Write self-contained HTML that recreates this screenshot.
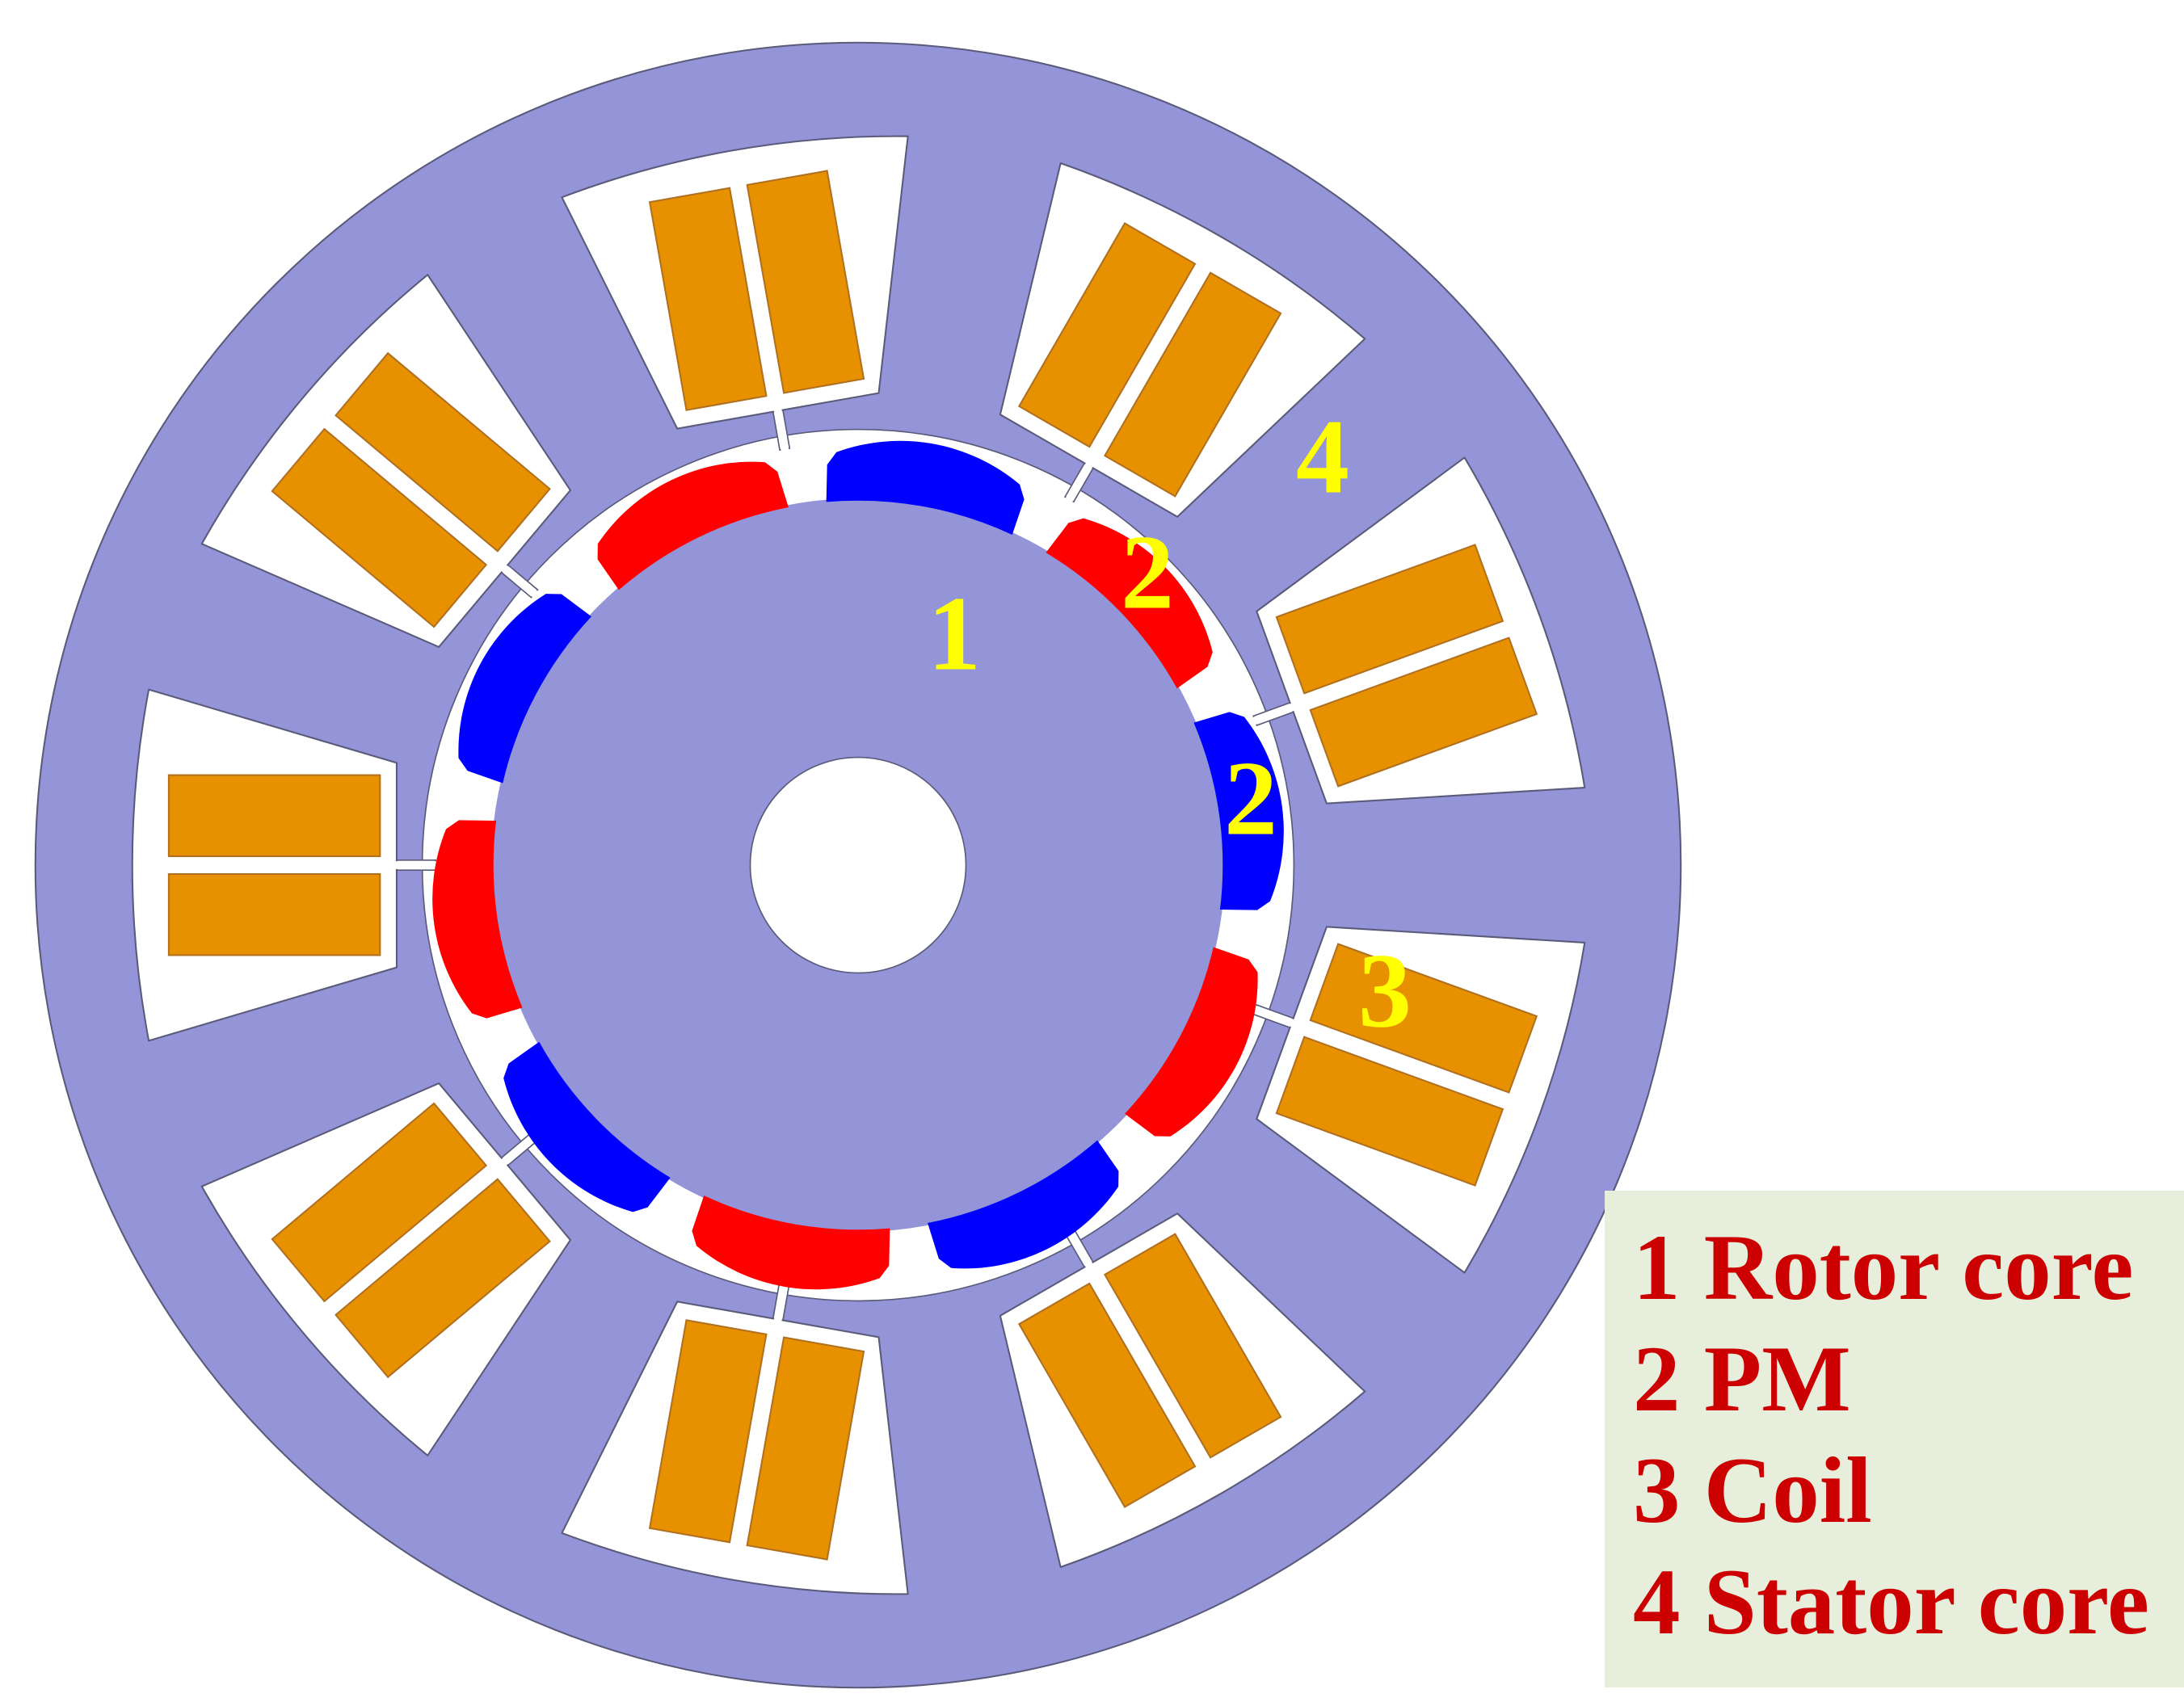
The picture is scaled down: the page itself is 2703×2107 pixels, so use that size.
<!DOCTYPE html>
<html><head><meta charset="utf-8"><style>html,body{margin:0;padding:0;background:#fff}svg{display:block}</style></head>
<body>
<svg width="2703" height="2107" viewBox="0 0 2703 2107" xmlns="http://www.w3.org/2000/svg">
<defs>
<g id="slot">
  <rect x="380" y="-4.5" width="45" height="9" fill="#fff" stroke="#5a5a7a" stroke-width="1.2"/>
  <path d="M415,-92 L638,-158 A850,850 0 0 1 638,158 L415,92 Z" fill="#fff" stroke="#5a5a7a" stroke-width="1.5" stroke-linejoin="round"/>
  <rect x="379" y="-3.5" width="40" height="7" fill="#fff"/>
  <rect x="430" y="8" width="190" height="73" fill="#e89100" stroke="#b07020" stroke-width="1.5"/>
  <rect x="430" y="-81" width="190" height="73" fill="#e89100" stroke="#b07020" stroke-width="1.5"/>
</g>
<path id="mag" d="M316.8,-84.9 L350,-90 L362.5,-83.7 A167,167 0 0 1 362.5,83.7 L350,90 L316.8,84.9 A328,328 0 0 0 316.8,-84.9 Z"/>
</defs>
<g transform="translate(1062,1071) scale(1.376)">
  <circle r="740" fill="#9494d8" stroke="#5a5a7a" stroke-width="1.5"/>
  <circle r="392" fill="#fff" stroke="#5a5a7a" stroke-width="1.2"/>
  <use href="#slot" transform="rotate(180)"/>
  <use href="#slot" transform="rotate(140)"/>
  <use href="#slot" transform="rotate(100)"/>
  <use href="#slot" transform="rotate(60)"/>
  <use href="#slot" transform="rotate(20)"/>
  <use href="#slot" transform="rotate(-20)"/>
  <use href="#slot" transform="rotate(-60)"/>
  <use href="#slot" transform="rotate(-100)"/>
  <use href="#slot" transform="rotate(-140)"/>
  <circle r="330" fill="#9494d8"/>
  <use href="#mag" fill="#0000ff" transform="rotate(-8)"/>
  <use href="#mag" fill="#ff0000" transform="rotate(28)"/>
  <use href="#mag" fill="#0000ff" transform="rotate(64)"/>
  <use href="#mag" fill="#ff0000" transform="rotate(100)"/>
  <use href="#mag" fill="#0000ff" transform="rotate(136)"/>
  <use href="#mag" fill="#ff0000" transform="rotate(172)"/>
  <use href="#mag" fill="#0000ff" transform="rotate(208)"/>
  <use href="#mag" fill="#ff0000" transform="rotate(244)"/>
  <use href="#mag" fill="#0000ff" transform="rotate(280)"/>
  <use href="#mag" fill="#ff0000" transform="rotate(316)"/>
  <circle r="97" fill="#fff" stroke="#5a5a7a" stroke-width="1.2"/>
</g>
<g font-family="'Liberation Serif', serif" font-weight="bold" fill="#ffff00" font-size="132" text-anchor="middle" dominant-baseline="central">
  <text x="1181" y="784">1</text>
  <text x="1420" y="708">2</text>
  <text x="1548" y="988">2</text>
  <text x="1714" y="1226">3</text>
  <text x="1637" y="565">4</text>
</g>
<rect x="1986" y="1474" width="717" height="615" fill="#e8eedc"/>
<g font-family="'Liberation Serif', serif" font-weight="bold" fill="#cc0000" font-size="117">
  <text x="2021" y="1608">1 Rotor core</text>
  <text x="2021" y="1746">2 PM</text>
  <text x="2021" y="1884">3 Coil</text>
  <text x="2021" y="2022">4 Stator core</text>
</g>
</svg>
</body></html>
